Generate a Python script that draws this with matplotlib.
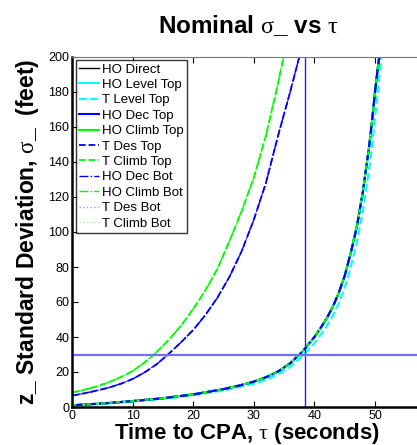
import matplotlib
matplotlib.use("Agg")
import matplotlib.pyplot as plt

plt.rcParams['font.family'] = ['Liberation Sans', 'DejaVu Sans']
plt.rcParams['mathtext.fontset'] = 'custom'
plt.rcParams['mathtext.rm'] = 'Liberation Serif'
plt.rcParams['mathtext.it'] = 'Liberation Serif'
plt.rcParams['mathtext.bf'] = 'Liberation Serif'

# ---- data ----
tau_main = [0, 5, 10, 15, 20, 25, 28, 30, 32, 34, 36, 38, 40, 41, 42, 43, 44, 45, 46, 47, 48, 49, 49.5, 50, 50.5, 50.7]
sig_main = [1.0, 2.0, 3.4, 5.0, 7.2, 10.2, 12.6, 14.5, 17.0, 20.3, 25, 31.5, 40, 45, 50.5, 57, 65, 75, 88, 103, 123, 148, 163, 180, 195, 200]

tau_level = [0, 5, 10, 15, 20, 25, 28, 30, 32, 34, 36, 38, 40, 41, 42, 43, 44, 45, 46, 47, 48, 49, 49.5, 50, 50.5, 51]
sig_level = [0.8, 1.8, 3.1, 4.6, 6.7, 9.5, 11.7, 13.3, 15.6, 18.6, 23, 29, 36.5, 41, 46, 52, 59, 68, 80, 94, 112, 135, 149, 165, 182, 200]

tau_climb = [0, 2, 4, 6, 8, 10, 12, 14, 16, 18, 20, 22, 24, 26, 28, 30, 32, 34, 34.9]
sig_climb = [8.2, 9.8, 11.7, 14.0, 17.0, 20.5, 25.5, 31.5, 38.5, 46.5, 56, 66.5, 79, 95, 112, 131, 155, 185, 200]

tau_des = [0, 2, 4, 6, 8, 10, 12, 14, 16, 18, 20, 22, 24, 26, 28, 30, 32, 34, 36, 37.5]
sig_des = [6.5, 7.8, 9.3, 11.0, 13.2, 16.0, 19.8, 24.5, 30.5, 37, 44, 52.5, 62.5, 74.5, 89, 107, 128, 155, 180, 200]

tau_ref = 38.4
sig_ref = 30

labels = ['HO Direct', 'HO Level Top', 'T Level Top', 'HO Dec Top', 'HO Climb Top',
          'T Des Top', 'T Climb Top', 'HO Dec Bot', 'HO Climb Bot', 'T Des Bot', 'T Climb Bot']
x_ticks = [0, 10, 20, 30, 40, 50]
y_ticks = [0, 20, 40, 60, 80, 100, 120, 140, 160, 180, 200]

fig = plt.figure(figsize=(4.17, 4.45), dpi=100)
ax = fig.add_axes([72/417, 38/445, 363.6/417, 350/445])

B, G, C = '#0000ff', '#00ff00', '#00ffff'
ax.plot(tau_main, sig_main, color='k', lw=1.0, label=labels[0])
ax.plot(tau_main, sig_main, color=C, lw=1.5, label=labels[1])
ax.plot(tau_level, sig_level, color=C, lw=1.5, ls='--', label=labels[2])
ax.plot(tau_main, sig_main, color=B, lw=1.5, label=labels[3])
ax.plot(tau_main, sig_main, color=G, lw=1.5, label=labels[4])
ax.plot(tau_des, sig_des, color=B, lw=1.3, ls='--', label=labels[5])
ax.plot(tau_climb, sig_climb, color=G, lw=1.3, ls='--', label=labels[6])
ax.plot(tau_des, sig_des, color=B, lw=1.0, ls='-.', label=labels[7])
ax.plot(tau_climb, sig_climb, color=G, lw=1.0, ls='-.', label=labels[8])
ax.plot(tau_main, sig_main, color='#9999ff', lw=1.0, ls=':', label=labels[9])
ax.plot(tau_main, sig_main, color='#99ff99', lw=1.0, ls=':', label=labels[10])
ax.plot(tau_main, sig_main, color=B, lw=1.5, dashes=(5, 1.5))
ax.plot(tau_main, sig_main, color=G, lw=1.5, dashes=(2, 5))

ax.axvline(tau_ref, color='#1f1fff', lw=1.0)
ax.axhline(sig_ref, color='#6f6fff', lw=1.6)

ax.set_xlim(0, 60)
ax.set_ylim(0, 200)
ax.set_xticks(x_ticks)
ax.set_yticks(y_ticks)
ax.tick_params(direction='in', length=4, top=True, right=False, labelsize=9, pad=2)
for s in ['left', 'bottom']:
    ax.spines[s].set_linewidth(1.8)
    ax.spines[s].set_color('k')
ax.spines['top'].set_color('#777777')
ax.spines['top'].set_linewidth(0.8)
ax.spines['right'].set_visible(False)

ax.set_title(r'Nominal $\sigma$_ vs $\tau$', fontsize=17.5, fontweight='bold', pad=17)
ax.title.set_position((176/363.6, 1))
ax.set_xlabel(r'Time to CPA, $\tau$ (seconds)', fontsize=16, fontweight='bold', va='center')
ax.xaxis.set_label_coords(174.5/363.6, -26/350)
ax.set_ylabel(r'z_ Standard Deviation, $\sigma$_  (feet)', fontsize=16.5, fontweight='bold', va='center')
ax.yaxis.set_label_coords(-44/363.6, 0.5)

leg = ax.legend(loc='upper left', bbox_to_anchor=(76/417, 1 - 60/445), bbox_transform=fig.transFigure,
                borderaxespad=0, fontsize=9.5, frameon=True, fancybox=False, edgecolor='k',
                handlelength=1.5, handletextpad=0.2, labelspacing=0.24, borderpad=0.25)
leg.get_frame().set_linewidth(1.0)

fig.savefig('out.png', dpi=100)
